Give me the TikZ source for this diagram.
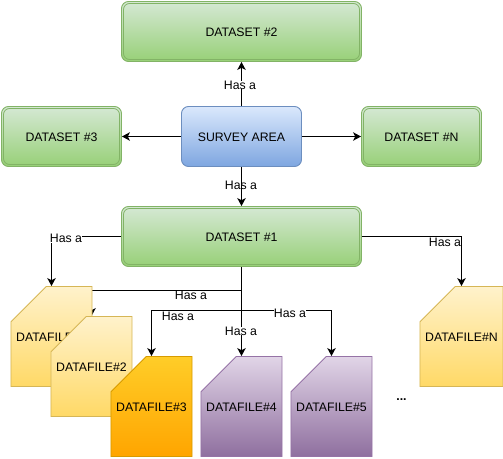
\documentclass[tikz,border=0pt]{standalone}
\usepackage{fontspec}
\setmainfont{Liberation Sans}
\usetikzlibrary{arrows.meta,backgrounds,shapes.misc}

\tikzset{
	box/.style={rectangle,rounded corners=7pt,minimum width=#1,minimum height=60pt,inner sep=0pt,line width=0.9pt,text height=10.4pt,text depth=0pt},
	dataset/.style={box=#1,draw=setline,top color=setfrom,bottom color=setto,
		path picture={\draw[setline,line width=0.8pt,rounded corners=6pt]
			([xshift=2pt,yshift=2pt]path picture bounding box.south west) rectangle
			([xshift=-2pt,yshift=-2pt]path picture bounding box.north east);}},
	area/.style={box=120pt,draw=arealine,top color=areafrom,bottom color=areato},
	datafile/.style={chamfered rectangle,chamfered rectangle corners=north west,
		chamfered rectangle xsep=30pt,chamfered rectangle ysep=30pt,
		minimum width=80pt,minimum height=100pt,inner sep=0pt,line width=0.9pt,text height=10.4pt,text depth=0pt},
	yellowfile/.style={datafile,draw=yline,top color=yfrom,bottom color=yto},
	orangefile/.style={datafile,draw=oline,top color=ofrom,bottom color=oto},
	purplefile/.style={datafile,draw=pline,top color=pfrom,bottom color=pto},
	link/.style={-{Stealth[length=8pt,width=8.5pt,inset=2.2pt]},line width=1pt,black},
	hasa/.style={inner sep=0pt,fill=white},
	hasaplain/.style={inner sep=0pt}
}
\definecolor{setline}{HTML}{82B366}
\definecolor{setfrom}{HTML}{D5E8D4}
\definecolor{setto}{HTML}{97D077}
\definecolor{arealine}{HTML}{6C8EBF}
\definecolor{areafrom}{HTML}{DAE8FC}
\definecolor{areato}{HTML}{7EA6E0}
\definecolor{yline}{HTML}{D6B656}
\definecolor{yfrom}{HTML}{FFF2CC}
\definecolor{yto}{HTML}{FFD966}
\definecolor{oline}{HTML}{D79B00}
\definecolor{ofrom}{HTML}{FFCD28}
\definecolor{oto}{HTML}{FFA500}
\definecolor{pline}{HTML}{9673A6}
\definecolor{pfrom}{HTML}{E1D5E7}
\definecolor{pto}{HTML}{8F6F9F}

\begin{document}
\begin{tikzpicture}[x=1pt,y=-1pt,font=\fontsize{12.3}{14}\selectfont]
	\useasboundingbox (0.5,0.5) rectangle (503.5,458.5);

	\node[area] (survey) at (242,137) {SURVEY AREA};
	\node[dataset=240pt] (set2) at (242,32) {DATASET \#2};
	\node[dataset=120pt] (set3) at (62,137) {DATASET \#3};
	\node[dataset=120pt] (setn) at (422,137) {DATASET \#N};
	\node[dataset=240pt] (set1) at (242,237) {DATASET \#1};

	\node[yellowfile] (file1) at (52,337) {DATAFILE\#1};
	\node[yellowfile] (file2) at (92,367) {DATAFILE\#2};
	\node[orangefile] (file3) at (152,407) {DATAFILE\#3};
	\node[purplefile] (file4) at (242,407) {DATAFILE\#4};
	\node[purplefile] (file5) at (332,407) {DATAFILE\#5};
	\node[yellowfile] (filen) at (462,337) {DATAFILE\#N};
	\node[font=\fontsize{12.3}{14}\selectfont\bfseries] (dots) at (402,400) {...};

	\coordinate (turn2) at (242,291);
	\coordinate (turn3) at (242,311);

	\begin{pgfonlayer}{background}
		\draw[link] (survey) -- (set2);
		\draw[link] (survey) -- (set3);
		\draw[link] (survey) -- (setn);
		\draw[link] (survey) -- (set1);
		\draw[link] (set1.west) -| (file1.north);
		\draw[link] (set1.south) -- (turn2) -| (file2.north);
		\draw[link] (set1.south) -- (turn3) -| (file3.north);
		\draw[link] (set1.south) -- (file4.north);
		\draw[link] (turn3) -| (file5.north);
		\draw[link] (set1.east) -| (filen.north);
	\end{pgfonlayer}

	\node[hasa] (lab2) at (240.5,85.5) {Has a};
	\node[hasaplain] (lab1) at (241.5,186) {Has a};
	\node[hasa] (laba) at (66.5,239) {Has a};
	\node[hasa] (labb) at (191.5,296) {Has a};
	\node[hasa] (labc) at (178.5,317) {Has a};
	\node[hasa] (labd) at (241.5,331.5) {Has a};
	\node[hasa] (labe) at (290.5,314) {Has a};
	\node[hasaplain] (labn) at (445.5,243) {Has a};
\end{tikzpicture}
\end{document}
